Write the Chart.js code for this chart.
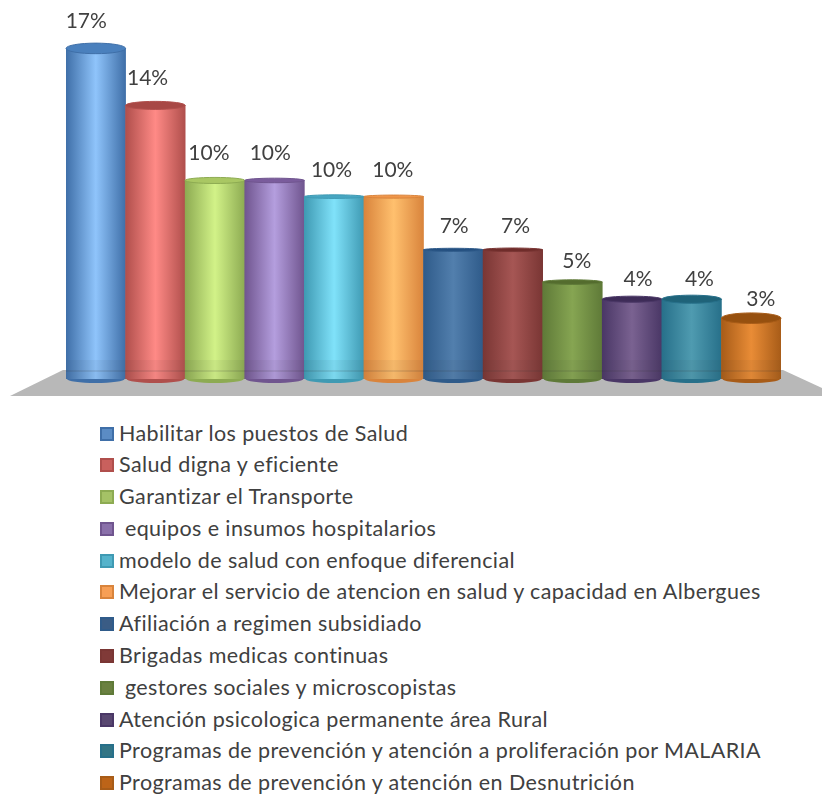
<!DOCTYPE html>
<html><head><meta charset="utf-8">
<style>
html,body{margin:0;padding:0;background:#fff;width:822px;height:796px;overflow:hidden}
#wrap{position:absolute;left:0;top:0;width:822px;height:400px}
#legend{position:absolute;left:100px;top:417.5px;font:21.5px Lato,sans-serif;letter-spacing:.4px;color:#404040}
.row{height:31.8px;line-height:31.8px;white-space:pre;position:relative;padding-left:19px}
.sw{position:absolute;left:0;top:9px;width:10px;height:10px;border:2px solid}
</style>
<script src="https://cdn.jsdelivr.net/npm/chart.js@4/dist/chart.umd.min.js"></script>
</head><body>
<div id="wrap"><canvas id="c" width="822" height="400"></canvas></div>
<div id="legend"></div>
<script>
const categories=["Habilitar los puestos de Salud","Salud digna y eficiente","Garantizar el Transporte"," equipos e insumos hospitalarios","modelo de salud con enfoque diferencial","Mejorar el servicio de atencion en salud y capacidad en Albergues","Afiliación a regimen subsidiado","Brigadas medicas continuas"," gestores sociales y microscopistas","Atención psicologica permanente área Rural","Programas de prevención y atención a proliferación por MALARIA","Programas de prevención y atención en Desnutrición"];
const values=[17.4,14.4,10.45,10.45,9.6,9.6,6.8,6.8,5.1,4.2,4.2,3.2];
const edgeColors=["#3f6fa8","#b04f4c","#8dab52","#70558f","#3f9ab3","#d9843c","#2f5b8a","#7a3634","#5f7a38","#4a3766","#27708a","#a85c18"];
const midColors=["#8fc4fb","#ff8a86","#d2f288","#b49ede","#80e2fa","#ffc06e","#527fad","#a65654","#86a552","#7a6291","#4f9bb0","#e98c36"];
const capColors=["#4a80bd","#a84845","#a9c763","#7a5c9c","#46a6c2","#f0964a","#234f80","#6f2c2a","#546c2e","#3e2c58","#1f6379","#96500f"];
const swatchColors=["#5b8cc4","#c9605d","#a5c266","#8a70aa","#55b3cb","#f79f55","#3a5c85","#803a38","#6a8040","#584770","#337585","#bd6418"];

const cylinder={id:'cylinder',
 beforeDatasetsDraw(ch){
  const g=ch.ctx,y=ch.scales.y.getPixelForValue(0);
  g.save();g.fillStyle='#b8b8b8';g.beginPath();
  g.moveTo(63,y-9);g.lineTo(783,y-9);g.lineTo(822,y+9);g.lineTo(822,y+17);g.lineTo(10,y+17);g.closePath();g.fill();
  g.restore();
 },
 afterDatasetsDraw(ch){
  const g=ch.ctx,m=ch.getDatasetMeta(0).data,mid=ch.chartArea.left+ch.chartArea.width/2;
  m.forEach((b,i)=>{
   const hw=b.width/2,off=Math.abs(b.x-mid)/(ch.chartArea.width/2);
   const ry=1.5+off*off*4.5,ryB=4;
   g.save();
   g.fillStyle=edgeColors[i];g.beginPath();g.ellipse(b.x,b.base,hw-1,ryB,0,0,Math.PI);g.fill();
   g.fillStyle='rgba(60,60,60,.06)';g.fillRect(b.x-hw,b.base-19,b.width,19);
   g.fillStyle='rgba(60,60,60,.12)';g.fillRect(b.x-hw,b.base-9,b.width,2);
   g.fillStyle=capColors[i];g.strokeStyle=edgeColors[i];g.lineWidth=1;
   g.beginPath();g.ellipse(b.x,b.y,hw,ry,0,0,Math.PI*2);g.fill();g.stroke();
   g.fillStyle='#404040';g.font='21px Lato, sans-serif';g.textAlign='center';g.textBaseline='middle';
   const lx=mid+(b.x-mid)*1.029, ly=b.y-(15+12*Math.min(1,values[i]/10));
   g.fillText(Math.round(values[i])+'%',lx,ly);
   g.restore();
  });
 }};

new Chart(document.getElementById('c'),{
 type:'bar',
 data:{labels:categories,datasets:[{data:values,barPercentage:1,categoryPercentage:1,borderWidth:0,
  backgroundColor(ctx){
   const ch=ctx.chart,i=ctx.dataIndex,sx=ch.scales.x;
   if(!sx||i===undefined)return midColors[i]||'#888';
   const x=sx.getPixelForValue(i),w=sx.width/categories.length/2;
   if(!isFinite(x)||!isFinite(w)||w<=0)return midColors[i];
   const gr=ch.ctx.createLinearGradient(x-w,0,x+w,0);
   gr.addColorStop(0,edgeColors[i]);gr.addColorStop(.5,midColors[i]);gr.addColorStop(1,edgeColors[i]);
   return gr;
  }}]},
 options:{responsive:false,animation:false,
  layout:{padding:{left:66,right:41,top:8.5,bottom:21}},
  plugins:{legend:{display:false},tooltip:{enabled:false}},
  scales:{x:{display:false},y:{display:false,min:0,max:19.5}}},
 plugins:[cylinder]});

const lg=document.getElementById('legend');
categories.forEach((c,i)=>{
 const r=document.createElement('div');r.className='row';
 const s=document.createElement('span');s.className='sw';s.style.background=swatchColors[i];s.style.borderColor=edgeColors[i];
 r.appendChild(s);r.appendChild(document.createTextNode(c));lg.appendChild(r);
});
</script>
</body></html>
